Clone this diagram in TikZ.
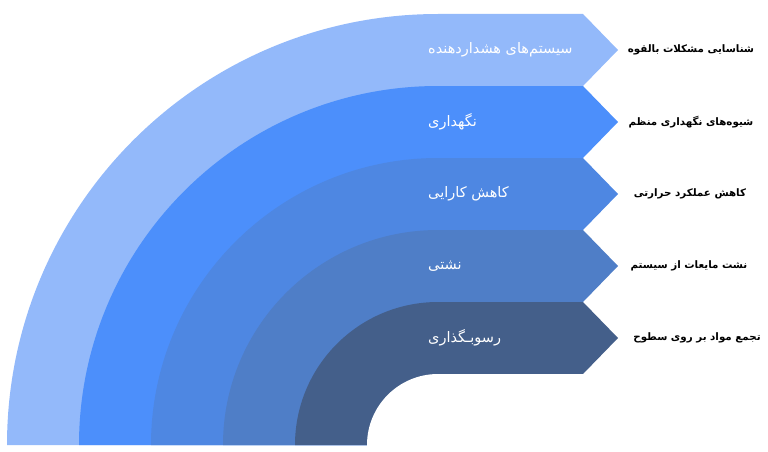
\documentclass[tikz,border=0pt]{standalone}
\usepackage{fontspec}
\TeXXeTstate=1
\newfontfamily\arabicfont[Script=Arabic]{DejaVu Sans}
\definecolor{cA}{HTML}{93B9FA}
\definecolor{cB}{HTML}{4C8FFB}
\definecolor{cC}{HTML}{4E87E2}
\definecolor{cD}{HTML}{4F7EC7}
\definecolor{cE}{HTML}{445F8A}
\tikzset{
  inlabel/.style={anchor=west,text=white,font=\arabicfont\fontsize{14.5}{17}\selectfont,inner sep=0pt},
  outlabel/.style={anchor=center,text=black,font=\arabicfont\bfseries\fontsize{10.3}{12}\selectfont,inner sep=0pt}
}
\newcommand{\bandshape}[2]{% #1 outer radius, #2 colour
  \fill[#2] (438-#1,6) arc[start angle=180,end angle=90,radius=#1]
    -- (583,6+#1) -- (618,6+#1-36) -- (583,6+#1-72) -- (583,6+#1-74)
    -- (438,6+#1-74) -- (438,6) -- cycle;}
\begin{document}
\begin{tikzpicture}[x=1pt,y=1pt]
\useasboundingbox (0,0) rectangle (768,451);
\bandshape{431}{cA}
\bandshape{359}{cB}
\bandshape{287}{cC}
\bandshape{215}{cD}
\bandshape{143}{cE}
\fill[white] (367,6) arc[start angle=180,end angle=90,radius=71] -- (438,3) -- (367,3) -- cycle;
\fill[white] (438,3) rectangle (584,77);
\node[inlabel] (l1) at (428,401) {\beginR سیستم‌های هشداردهنده\endR};
\node[inlabel] (l2) at (428,329) {\beginR نگهداری\endR};
\node[inlabel] (l3) at (428,257) {\beginR کاهش کارایی\endR};
\node[inlabel] (l4) at (428,185) {\beginR نشتی\endR};
\node[inlabel] (l5) at (428,113) {\beginR رسوبـگذاری\endR};
\node[outlabel] (r1) at (691,401) {\beginR شناسایی مشکلات بالقوه\endR};
\node[outlabel] (r2) at (691,329) {\beginR شیوه‌های نگهداری منظم\endR};
\node[outlabel] (r3) at (690,257) {\beginR کاهش عملکرد حرارتی\endR};
\node[outlabel] (r4) at (689,185) {\beginR نشت مایعات از سیستم\endR};
\node[outlabel] (r5) at (697,113) {\beginR تجمع مواد بر روی سطوح\endR};
\end{tikzpicture}
\end{document}
